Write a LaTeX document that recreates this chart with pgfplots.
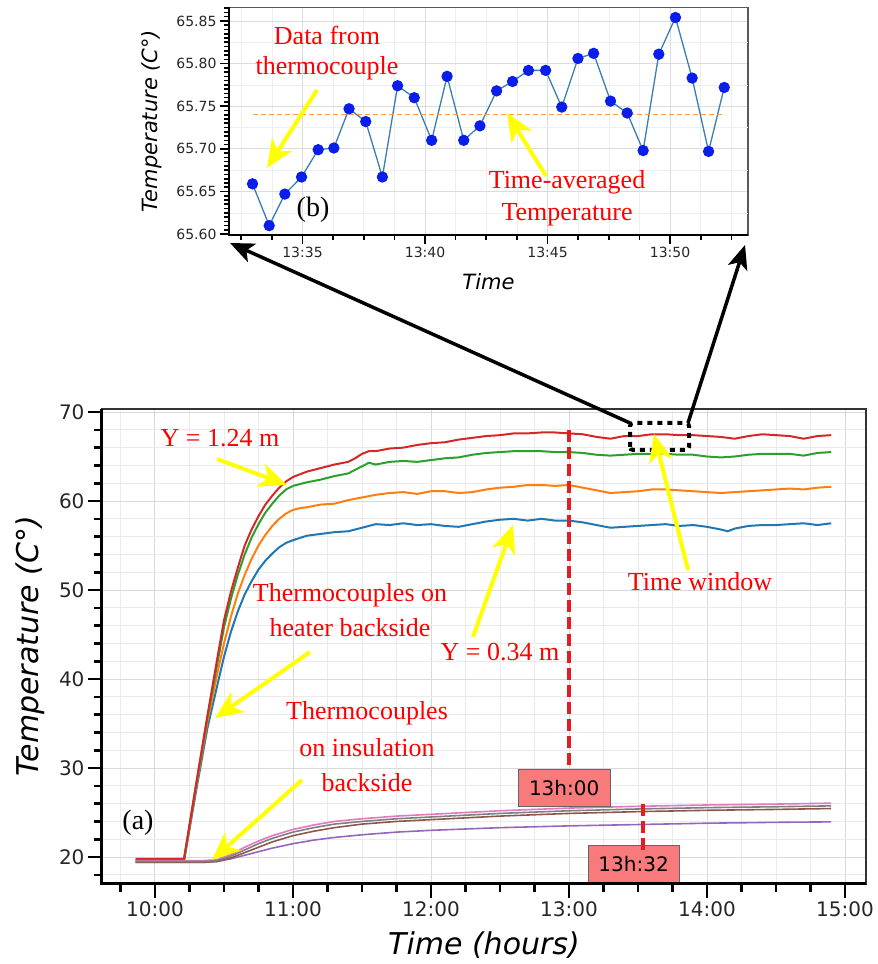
\documentclass[border=0pt]{standalone}
\usepackage{pgfplots}
\pgfplotsset{compat=1.18}
\usepackage{fontspec}
\setmainfont{Liberation Serif}
\setsansfont{DejaVu Sans}
\usetikzlibrary{arrows.meta}
\definecolor{tblue}{HTML}{1F77B4}
\definecolor{torange}{HTML}{FF7F0E}
\definecolor{tgreen}{HTML}{2CA02C}
\definecolor{tred}{HTML}{D62728}
\definecolor{tpurple}{HTML}{9467BD}
\definecolor{tbrown}{HTML}{8C564B}
\definecolor{tpink}{HTML}{E377C2}
\definecolor{tgray}{HTML}{7F7F7F}
\definecolor{mkblue}{RGB}{10,30,235}
\definecolor{steel}{HTML}{3A7DB0}
\definecolor{annred}{RGB}{255,0,0}
\definecolor{dashred}{RGB}{228,30,30}
\definecolor{boxfill}{RGB}{248,122,122}
\definecolor{ayellow}{RGB}{255,255,0}
\tikzset{
  yarrow/.style={draw=ayellow, line width=4pt, -{Stealth[length=28pt,width=24pt,inset=8pt]}},
  barrow/.style={draw=black, line width=3.5pt, -{Stealth[length=24pt,width=20pt,inset=6pt]}},
  ann/.style={text=annred, font=\fontsize{26}{30}\selectfont, inner sep=0pt},
}
\begin{document}
\begin{tikzpicture}[x=1pt,y=1pt]
\useasboundingbox (0,0) rectangle (878,964);

% ---------------- top axis (b) ----------------
\begin{axis}[
  at={(229pt,729pt)}, anchor=south west, scale only axis,
  width=519pt, height=227.7pt,
  xmin=32.0, xmax=53.18, ymin=65.599, ymax=65.866,
  clip=false,
  xtick={35,40,45,50}, xticklabels={13:35,13:40,13:45,13:50},
  minor xtick={32.5,33.75,36.25,37.5,38.75,41.25,42.5,43.75,46.25,47.5,48.75,51.25,52.5},
  ytick={65.60,65.65,65.70,65.75,65.80,65.85},
  yticklabels={65.60,65.65,65.70,65.75,65.80,65.85},
  minor ytick={65.605,65.61,...,65.865},
  extra y ticks={65.625,65.675,65.725,65.775,65.825},
  extra y tick labels={},
  extra y tick style={major tick length=0pt, ymajorgrids=true, major grid style={gray!13, line width=0.6pt}},
  tick align=outside, xtick pos=left, ytick pos=left,
  major tick length=9pt, minor tick length=5pt,
  tick style={black, line width=1.6pt},
  xmajorgrids=true, xminorgrids=true, ymajorgrids=true, yminorgrids=false,
  major grid style={gray!28, line width=0.8pt},
  minor grid style={gray!13, line width=0.6pt},
  axis line style={gray!70!black, line width=1.2pt},
  tick label style={font=\sffamily\fontsize{14}{17}\selectfont, text=black!85},
  /pgf/number format/assume math mode=true,
  xlabel={Time}, ylabel={Temperature (C°)},
  xlabel style={at={(axis description cs:0.5,-0.206)}, anchor=center, font=\sffamily\itshape\fontsize{21}{25}\selectfont},
  ylabel style={at={(axis description cs:-0.148,0.5)}, anchor=center, font=\sffamily\itshape\fontsize{21}{25}\selectfont},
]
\addplot[draw=steel, line width=1.3pt, mark=*, mark size=5pt, mark options={fill=mkblue, draw=mkblue}] coordinates {
(32.96,65.659) (33.64,65.610) (34.28,65.647) (34.96,65.667) (35.64,65.699)
(36.28,65.701) (36.90,65.747) (37.58,65.732) (38.26,65.667) (38.88,65.774)
(39.56,65.760) (40.27,65.710) (40.90,65.785) (41.58,65.710) (42.24,65.727)
(42.92,65.768) (43.57,65.779) (44.22,65.792) (44.92,65.792) (45.58,65.749)
(46.24,65.806) (46.88,65.812) (47.57,65.756) (48.25,65.742) (48.90,65.698)
(49.54,65.811) (50.22,65.854) (50.90,65.783) (51.57,65.697) (52.21,65.772)
};
\addplot[draw=torange!80!white, line width=1.2pt, dash pattern=on 5pt off 3pt] coordinates {(32.96,65.740) (52.21,65.740)};
\draw[black, line width=2pt] (rel axis cs:0,1) -- (rel axis cs:0,0) -- (rel axis cs:1,0);
\end{axis}

% ---------------- bottom axis (a) ----------------
\begin{axis}[
  at={(102pt,80pt)}, anchor=south west, scale only axis,
  width=764pt, height=475pt,
  xmin=9.616, xmax=15.152, ymin=16.97, ymax=70.34,
  clip=false,
  xtick={10,11,12,13,14,15},
  xticklabels={10:00,11:00,12:00,13:00,14:00,15:00},
  minor xtick={9.75,10.25,10.5,10.75,11.25,11.5,11.75,12.25,12.5,12.75,13.25,13.5,13.75,14.25,14.5,14.75},
  ytick={20,30,40,50,60,70},
  minor ytick={18,22,24,26,28,32,34,36,38,42,44,46,48,52,54,56,58,62,64,66,68},
  tick align=outside, xtick pos=left, ytick pos=left,
  major tick length=14pt, minor tick length=8pt,
  tick style={black, line width=2.6pt},
  grid=both,
  major grid style={gray!30, line width=1pt},
  minor grid style={gray!16, line width=0.8pt},
  axis line style={black!80, line width=1.6pt},
  tick label style={font=\sffamily\fontsize{20}{24}\selectfont, text=black!85},
  /pgf/number format/assume math mode=true,
  xlabel={Time (hours)}, ylabel={Temperature (C°)},
  xlabel style={at={(axis description cs:0.5,-0.128)}, anchor=center, font=\sffamily\itshape\fontsize{30}{36}\selectfont},
  ylabel style={at={(axis description cs:-0.0942,0.5)}, anchor=center, font=\sffamily\itshape\fontsize{30}{36}\selectfont},
]
% heater backside
\addplot[tblue, line width=2pt] coordinates {
(9.86,19.5) (10.21,19.5) (10.30,27.6) (10.38,34.5) (10.45,39.2) (10.50,42.5) (10.55,45.3)
(10.60,47.6) (10.65,49.5) (10.70,51.0) (10.75,52.3) (10.80,53.3) (10.85,54.1) (10.90,54.8)
(10.95,55.3) (11.00,55.6) (11.10,56.1) (11.20,56.3) (11.30,56.5) (11.40,56.6) (11.50,57.0)
(11.60,57.4) (11.70,57.3) (11.80,57.5) (11.90,57.3) (12.00,57.4) (12.10,57.2) (12.20,57.1)
(12.30,57.4) (12.40,57.7) (12.50,57.9) (12.60,58.0) (12.70,57.8) (12.80,58.0) (12.90,57.8)
(13.00,57.8) (13.10,57.6) (13.20,57.3) (13.30,57.0) (13.40,57.1) (13.50,57.2) (13.60,57.3)
(13.70,57.4) (13.80,57.2) (13.90,57.3) (14.00,57.1) (14.10,56.8) (14.15,56.6) (14.20,56.9)
(14.30,57.2) (14.40,57.3) (14.50,57.3) (14.60,57.4) (14.70,57.5) (14.80,57.3) (14.90,57.5)
};
\addplot[torange, line width=2pt] coordinates {
(9.86,19.6) (10.21,19.6) (10.30,28.0) (10.38,35.2) (10.45,40.5) (10.50,44.0) (10.55,47.0)
(10.60,49.6) (10.65,51.7) (10.70,53.5) (10.75,55.0) (10.80,56.2) (10.85,57.2) (10.90,58.0)
(10.95,58.6) (11.00,59.0) (11.05,59.2) (11.10,59.3) (11.20,59.6) (11.30,59.7) (11.40,60.1)
(11.50,60.4) (11.60,60.7) (11.70,60.9) (11.80,61.0) (11.90,60.8) (12.00,61.1) (12.10,61.1)
(12.20,60.9) (12.30,61.0) (12.40,61.3) (12.50,61.5) (12.60,61.6) (12.70,61.8) (12.80,61.8)
(12.90,61.7) (13.00,61.8) (13.10,61.5) (13.20,61.2) (13.30,60.9) (13.40,61.0) (13.50,61.1)
(13.60,61.3) (13.70,61.3) (13.80,61.2) (13.90,61.1) (14.00,61.0) (14.10,60.9) (14.20,61.0)
(14.30,61.1) (14.40,61.2) (14.50,61.3) (14.60,61.4) (14.70,61.3) (14.80,61.5) (14.90,61.6)
};
\addplot[tgreen, line width=2pt] coordinates {
(9.86,19.7) (10.21,19.7) (10.30,28.3) (10.38,35.7) (10.45,41.6) (10.50,45.8) (10.55,49.0)
(10.60,51.7) (10.65,54.0) (10.70,55.9) (10.75,57.4) (10.80,58.7) (10.85,59.7) (10.90,60.6)
(10.95,61.3) (11.00,61.7) (11.05,61.9) (11.10,62.1) (11.20,62.4) (11.30,62.8) (11.40,63.1)
(11.45,63.5) (11.50,63.9) (11.55,64.3) (11.60,64.1) (11.70,64.4) (11.80,64.5) (11.90,64.4)
(12.00,64.6) (12.10,64.8) (12.20,64.9) (12.30,65.2) (12.40,65.4) (12.50,65.5) (12.60,65.6)
(12.70,65.6) (12.80,65.6) (12.90,65.5) (13.00,65.5) (13.10,65.4) (13.20,65.2) (13.30,65.1)
(13.40,65.2) (13.50,65.3) (13.60,65.3) (13.70,65.3) (13.80,65.2) (13.90,65.2) (14.00,65.0)
(14.10,64.9) (14.20,65.0) (14.30,65.2) (14.40,65.3) (14.50,65.3) (14.60,65.3) (14.70,65.1)
(14.80,65.4) (14.90,65.5)
};
\addplot[tred, line width=2pt] coordinates {
(9.86,19.8) (10.21,19.8) (10.30,28.4) (10.38,35.9) (10.45,42.2) (10.50,46.6) (10.55,49.8)
(10.60,52.5) (10.65,55.0) (10.70,56.8) (10.75,58.3) (10.80,59.6) (10.85,60.6) (10.90,61.5)
(10.95,62.2) (11.00,62.7) (11.05,63.0) (11.10,63.3) (11.20,63.7) (11.30,64.1) (11.40,64.4)
(11.45,64.8) (11.50,65.3) (11.55,65.6) (11.60,65.6) (11.70,65.9) (11.80,66.0) (11.90,66.3)
(12.00,66.5) (12.10,66.6) (12.20,66.9) (12.30,67.1) (12.40,67.3) (12.50,67.4) (12.60,67.6)
(12.70,67.6) (12.80,67.7) (12.90,67.7) (13.00,67.6) (13.10,67.5) (13.20,67.2) (13.30,67.0)
(13.40,67.3) (13.50,67.3) (13.60,67.5) (13.70,67.5) (13.80,67.4) (13.90,67.4) (14.00,67.3)
(14.10,67.2) (14.20,67.0) (14.30,67.3) (14.40,67.5) (14.50,67.4) (14.60,67.3) (14.70,67.0)
(14.80,67.3) (14.90,67.4)
};
% insulation backside
\addplot[tpurple, line width=1.6pt] coordinates {
(9.86,19.4) (10.35,19.4) (10.45,19.5) (10.55,19.8) (10.65,20.2) (10.75,20.6) (10.85,21.0)
(11.00,21.5) (11.15,21.9) (11.30,22.2) (11.50,22.5) (11.75,22.8) (12.00,23.0) (12.25,23.15)
(12.50,23.3) (12.75,23.4) (13.00,23.5) (13.50,23.65) (14.00,23.8) (14.50,23.9) (14.90,23.95)
};
\addplot[tbrown, line width=1.6pt] coordinates {
(9.86,19.4) (10.35,19.4) (10.45,19.5) (10.55,19.9) (10.65,20.5) (10.75,21.1) (10.85,21.7)
(11.00,22.4) (11.15,22.9) (11.30,23.3) (11.50,23.7) (11.75,24.0) (12.00,24.2) (12.25,24.4)
(12.50,24.6) (12.75,24.75) (13.00,24.9) (13.50,25.1) (14.00,25.25) (14.50,25.35) (14.90,25.45)
};
\addplot[tpink, line width=1.6pt] coordinates {
(9.86,19.6) (10.35,19.6) (10.45,19.7) (10.55,20.3) (10.65,21.1) (10.75,21.8) (10.85,22.4)
(11.00,23.1) (11.15,23.6) (11.30,24.0) (11.50,24.3) (11.75,24.6) (12.00,24.8) (12.25,25.0)
(12.50,25.2) (12.75,25.35) (13.00,25.5) (13.50,25.7) (14.00,25.85) (14.50,25.95) (14.90,26.05)
};
\addplot[tgray, line width=1.6pt] coordinates {
(9.86,19.5) (10.35,19.5) (10.45,19.6) (10.55,20.1) (10.65,20.8) (10.75,21.5) (10.85,22.1)
(11.00,22.8) (11.15,23.3) (11.30,23.7) (11.50,24.0) (11.75,24.3) (12.00,24.5) (12.25,24.7)
(12.50,24.9) (12.75,25.05) (13.00,25.2) (13.50,25.4) (14.00,25.55) (14.50,25.65) (14.90,25.75)
};
% markers of instants
\draw[dashred, line width=4pt, dash pattern=on 12pt off 5pt] (axis cs:13.0,68.0) -- (axis cs:13.0,29.3);
\node[fill=boxfill, draw=gray!80!black, line width=1pt, minimum width=92pt, minimum height=37pt, inner sep=0pt,
      font=\sffamily\fontsize{20}{24}\selectfont] at (axis cs:12.965,27.75) {13h:00};
\node[fill=boxfill, draw=gray!80!black, line width=1pt, minimum width=91pt, minimum height=37pt, inner sep=0pt,
      font=\sffamily\fontsize{20}{24}\selectfont] at (axis cs:13.468,19.2) {13h:32};
\draw[dashred, line width=4pt, dash pattern=on 12pt off 5pt] (axis cs:13.534,26.0) -- (axis cs:13.534,20.5);
\draw[black, line width=3pt] (rel axis cs:0,1) -- (rel axis cs:0,0) -- (rel axis cs:1,0);
\end{axis}

% ---------------- annotations ----------------
% time window and zoom arrows
\draw[black, line width=4pt, dash pattern=on 5pt off 5pt, rounded corners=3pt] (630,514) rectangle (689,541);
\draw[barrow] (630,541) -- (230,721);
\draw[barrow] (688,541) -- (745,719);

% top panel
\node[ann] at (327,929) {Data from};
\node[ann] at (327,896) {thermocouple};
\draw[yarrow] (317,874) -- (267,796);
\node[inner sep=0pt, font=\fontsize{28}{32}\selectfont] at (313,754) {(b)};
\node[ann] at (567,782) {Time-averaged};
\node[ann] at (567,749) {Temperature};
\draw[yarrow] (546,788) -- (507,851);

% bottom panel
\node[ann] at (220,526) {Y = 1.24 m};
\draw[yarrow] (217,505) -- (287,479);
\node[ann] at (350,369) {Thermocouples on};
\node[ann] at (350,336) {heater backside};
\draw[yarrow] (310,312) -- (215,246);
\node[ann] at (500,312) {Y = 0.34 m};
\draw[yarrow] (473,327) -- (513,439);
\node[ann] at (367,251) {Thermocouples};
\node[ann] at (367,216) {on insulation};
\node[ann] at (367,181) {backside};
\draw[yarrow] (302,184) -- (212,104);
\node[ann] at (700,382) {Time window};
\draw[yarrow] (688,394) -- (654,530);
\node[inner sep=0pt, font=\fontsize{28}{32}\selectfont] at (138,141) {(a)};
\end{tikzpicture}
\end{document}
